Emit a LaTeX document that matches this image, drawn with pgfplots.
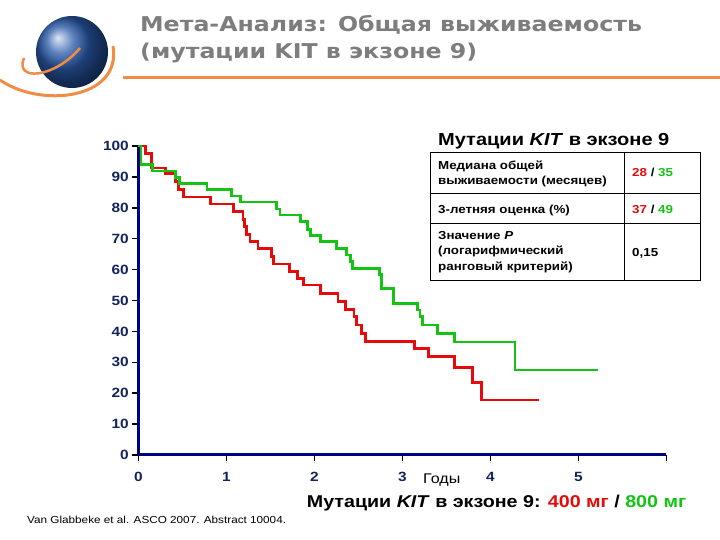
\documentclass[border=0pt]{standalone}
\usepackage{fontspec}
\setmainfont{Liberation Sans}[FakeStretch=1.15]
\newfontfamily\titlefont{DejaVu Sans}[FakeStretch=1.16]
\usepackage{pgfplots}
\pgfplotsset{compat=1.18}

\definecolor{titlegray}{RGB}{125,125,125}
\definecolor{slideorange}{RGB}{240,140,70}
\definecolor{axisnavy}{RGB}{0,0,128}
\definecolor{ticknavy}{RGB}{20,35,90}
\definecolor{kmred}{RGB}{230,10,10}
\definecolor{kmgreen}{RGB}{20,195,20}
\definecolor{globeblue}{RGB}{40,90,170}

\newcommand{\fs}[1]{\fontsize{#1}{#1}\selectfont}

\begin{document}
\begin{tikzpicture}
\begin{scope}[x=1pt,y=1pt]
  \useasboundingbox (0,0) rectangle (720,540);
  % logo
  \shade[ball color=globeblue] (72,488) circle (36);
  \draw[slideorange, line width=3pt] (0,460) .. controls (40,432) and (122,440) .. (113,494);
  \draw[slideorange, line width=2.5pt] (24,482) .. controls (14,458) and (55,462) .. (80,492);
  % title
  \node[anchor=base west, inner sep=0, text=titlegray] at (140,508) {\titlefont\bfseries\fs{20.4}Мета-Анализ: Общая выживаемость};
  \node[anchor=base west, inner sep=0, text=titlegray] at (140,481) {\titlefont\bfseries\fs{20.4}(мутации KIT в экзоне 9)};
  \draw[slideorange, line width=3pt] (123,462.5) -- (720,462.5);

  % table
  \node[anchor=base west, inner sep=0] at (438,394) {\bfseries\fs{17.4}Мутации \textit{KIT} в экзоне 9};
  \draw[line width=1pt] (430.7,259.3) rectangle (700,387.3);
  \draw[line width=1pt] (430.7,346) -- (700,346);
  \draw[line width=1pt] (430.7,316.7) -- (700,316.7);
  \draw[line width=1pt] (624,259.3) -- (624,387.3);
  \begin{scope}[every node/.style={anchor=base west, inner sep=0, font=\bfseries\fs{11.6}}]
    \node at (438,370) {Медиана общей};
    \node at (438,355) {выживаемости (месяцев)};
    \node at (438,326.7) {3-летняя оценка (\%)};
    \node at (438,300) {Значение \textit{P}};
    \node at (438,285) {(логарифмический};
    \node at (438,269.3) {ранговый критерий)};
    \node at (632,363) {\textcolor{kmred}{28} / \textcolor{kmgreen}{35}};
    \node at (632,326.7) {\textcolor{kmred}{37} / \textcolor{kmgreen}{49}};
    \node at (632,283.3) {0,15};
  \end{scope}

  % bottom texts
  \node[anchor=base west, inner sep=0] at (423,56) {\fs{14}Годы};
  \node[anchor=base west, inner sep=0] at (306.7,32) {\bfseries\fs{17.1}Мутации \textit{KIT} в экзоне 9: \textcolor{kmred}{400 мг} / \textcolor{kmgreen}{800 мг}};
  \node[anchor=base west, inner sep=0] at (27,16) {\fs{10.2}Van Glabbeke et al. ASCO 2007. Abstract 10004.};
\end{scope}

\begin{axis}[
    at={(138.3pt,85pt)}, anchor=origin,
    scale only axis,
    width=528pt, height=309pt,
    xmin=0, xmax=6, ymin=0, ymax=100,
    axis lines=left,
    axis line style={-, axisnavy, line width=3pt},
    xtick={0,1,2,3,4,5,6},
    xticklabels={0,1,2,3,4,5,{}},
    ytick={0,10,...,100},
    tick align=outside,
    major tick length=6pt,
    tick style={black, line width=1.5pt},
    /pgf/number format/assume math mode=true,
    ticklabel style={font=\bfseries\fs{13.4}, text=ticknavy},
    xticklabel style={yshift=-8pt},
    clip=false,
  ]
  % 400 mg
  \addplot[const plot, kmred, line width=2.8pt, line join=miter] coordinates {
    (0,100) (0.08,97.6) (0.15,92.9) (0.31,91) (0.42,88.5) (0.46,86) (0.51,83.5)
    (0.82,81.2) (1.08,78.7) (1.19,76.3) (1.21,74) (1.23,71.3) (1.27,69)
    (1.36,66.7) (1.51,64.3) (1.54,61.8) (1.72,59.3) (1.81,57) (1.88,55)
    (2.07,52.2) (2.27,49.6) (2.35,47) (2.45,44.8) (2.48,42.1) (2.54,39.4)
    (2.58,36.8) (3.14,34.5) (3.30,32) (3.59,28.3) (3.80,23.5) (3.90,17.8)
    (4.55,17.8)
  };
  % 800 mg
  \addplot[const plot, kmgreen, line width=2.8pt, line join=miter] coordinates {
    (0,100) (0.03,93.9) (0.16,91.9) (0.42,89.9) (0.47,87.9) (0.78,85.8)
    (1.06,83.8) (1.16,81.9) (1.57,79.6) (1.61,77.7) (1.84,75.5) (1.92,73)
    (1.96,71.1) (2.07,69) (2.25,66.9) (2.37,64.7) (2.41,62.6) (2.43,60.4)
    (2.74,58.3) (2.76,53.8) (2.90,49.1) (3.17,46.9) (3.20,44.8) (3.23,42.1)
    (3.40,39.4) (3.59,36.6) (4.28,27.5) (5.22,27.5)
  };
\end{axis}
\end{tikzpicture}
\end{document}
